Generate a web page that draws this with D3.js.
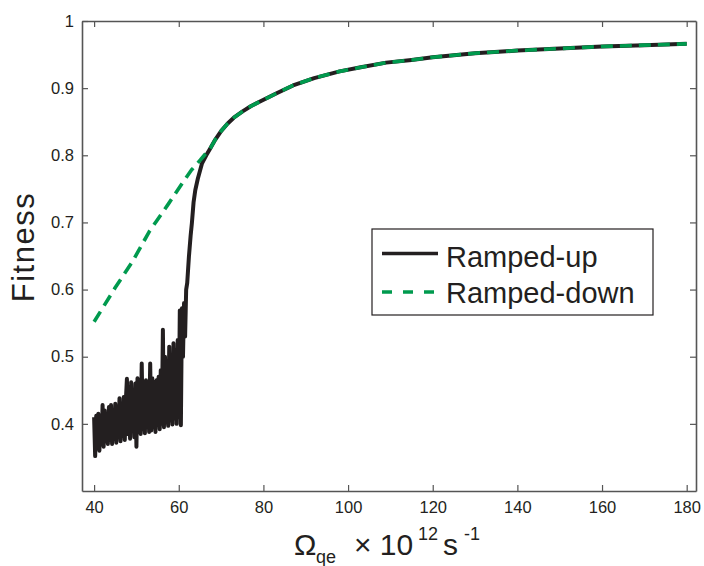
<!DOCTYPE html>
<html>
<head>
<meta charset="utf-8">
<script src="https://cdn.jsdelivr.net/npm/d3@7"></script>
<style>
  html, body { margin: 0; padding: 0; background: #fff; }
  svg { display: block; font-family: "Liberation Sans", Arial, Helvetica, sans-serif; }
</style>
</head>
<body>
<svg id="chart" width="704" height="566"></svg>
<script>
// ---------- data ----------
const xTicks = [40, 60, 80, 100, 120, 140, 160, 180];
const yTicks = [0.4, 0.5, 0.6, 0.7, 0.8, 0.9, 1];
const seriesNames = ["Ramped-up", "Ramped-down"];

const upX = [
  40.0, 40.25, 40.5, 40.75, 41.0, 41.25, 41.5, 41.75, 42.0, 42.25, 42.5, 42.75,
  43.0, 43.25, 43.5, 43.75, 44.0, 44.25, 44.5, 44.75, 45.0, 45.25, 45.5, 45.75,
  46.0, 46.25, 46.5, 46.75, 47.0, 47.25, 47.5, 47.75, 48.0, 48.25, 48.5, 48.75,
  49.0, 49.25, 49.5, 49.75, 50.0, 50.25, 50.5, 50.75, 51.0, 51.25, 51.5, 51.75,
  52.0, 52.25, 52.5, 52.75, 53.0, 53.25, 53.5, 53.75, 54.0, 54.25, 54.5, 54.75,
  55.0, 55.25, 55.5, 55.75, 56.0, 56.25, 56.5, 56.75, 57.0, 57.25, 57.5, 57.75,
  58.0, 58.25, 58.5, 58.75, 59.0, 59.25, 59.5, 59.75, 60.0, 60.25, 60.5, 60.75,
  61.0, 61.25, 61.5, 61.75, 62.0, 62.4, 62.8, 63.1, 63.5, 63.9, 64.5, 65.5,
  66.5, 67.5, 68.6, 70, 71.5, 73, 75, 77, 79.2, 83, 87, 92, 98, 103, 109, 115, 120,
  130, 140, 150, 160, 170, 180
];
const upY = [
  0.410, 0.352, 0.412, 0.368, 0.415, 0.360, 0.405, 0.372, 0.428, 0.366, 0.420, 0.375,
  0.410, 0.370, 0.425, 0.376, 0.428, 0.370, 0.415, 0.378, 0.430, 0.372, 0.420, 0.380,
  0.438, 0.374, 0.430, 0.382, 0.440, 0.376, 0.435, 0.467, 0.385, 0.455, 0.378, 0.462,
  0.390, 0.450, 0.380, 0.460, 0.366, 0.468, 0.390, 0.455, 0.385, 0.490, 0.392, 0.462,
  0.386, 0.465, 0.395, 0.458, 0.388, 0.490, 0.390, 0.468, 0.395, 0.462, 0.388, 0.465,
  0.398, 0.470, 0.392, 0.480, 0.400, 0.540, 0.395, 0.500, 0.402, 0.490, 0.397, 0.515,
  0.405, 0.500, 0.399, 0.520, 0.408, 0.510, 0.400, 0.525, 0.410, 0.569, 0.398, 0.572,
  0.500, 0.580, 0.530, 0.600, 0.610, 0.649, 0.680, 0.699, 0.730, 0.748, 0.765, 0.788,
  0.800, 0.811, 0.823, 0.836, 0.847, 0.856, 0.865, 0.873, 0.880, 0.892, 0.904, 0.915,
  0.925, 0.931, 0.938, 0.942, 0.946, 0.952, 0.956, 0.959, 0.962, 0.964, 0.966
];

const downX = [40, 45, 49, 53, 57.6, 61, 63, 65.1, 67.5, 68.6, 70, 71.5, 73, 75, 77,
  79.2, 83, 87, 92, 98, 103, 109, 115, 120, 130, 140, 150, 160, 170, 180];
const downY = [0.552, 0.603, 0.641, 0.686, 0.728, 0.760, 0.778, 0.793, 0.811, 0.823,
  0.836, 0.847, 0.856, 0.865, 0.873, 0.880, 0.892, 0.904, 0.915, 0.925, 0.931, 0.938,
  0.942, 0.946, 0.952, 0.956, 0.959, 0.962, 0.964, 0.966];

// ---------- layout ----------
const svg = d3.select("#chart");
const L = 82, R = 696, T = 21, B = 491;
const ink = "#231f20", green = "#009a4e", axisCol = "#555555";

const x = d3.scaleLinear().domain([37.14, 182.2]).range([L, R]);
const y = d3.scaleLinear().domain([0.3, 1]).range([B, T]);

// axes
function styleAxis(g) {
  g.selectAll("path.domain").attr("stroke", axisCol).attr("stroke-width", 1.6);
  g.selectAll(".tick line").attr("stroke", axisCol).attr("stroke-width", 1.2);
  g.selectAll(".tick text").attr("fill", ink).style("font-size", "16.5px")
    .style("font-family", "'Liberation Sans', Arial, sans-serif");
}
const fmtY = d => d === 1 ? "1" : d.toFixed(1);

svg.append("g").attr("transform", `translate(0,${B})`)
  .call(d3.axisBottom(x).tickValues(xTicks).tickSize(-6).tickSizeOuter(0).tickPadding(10))
  .call(styleAxis);
svg.append("g").attr("transform", `translate(0,${T})`)
  .call(d3.axisTop(x).tickValues(xTicks).tickSize(-6).tickSizeOuter(0).tickFormat(""))
  .call(styleAxis);
svg.append("g").attr("transform", `translate(${L},0)`)
  .call(d3.axisLeft(y).tickValues(yTicks).tickSize(-6).tickSizeOuter(0).tickPadding(8).tickFormat(fmtY))
  .call(styleAxis);
svg.append("g").attr("transform", `translate(${R},0)`)
  .call(d3.axisRight(y).tickValues(yTicks).tickSize(-6).tickSizeOuter(0).tickFormat(""))
  .call(styleAxis);

// lines
const line = d3.line().x(d => x(d[0])).y(d => y(d[1]));
const upData = upX.map((v, i) => [v, upY[i]]);
const downData = downX.map((v, i) => [v, downY[i]]);

svg.append("path").datum(upData).attr("d", line)
  .attr("fill", "none").attr("stroke", ink).attr("stroke-width", 4)
  .attr("stroke-linejoin", "round").attr("stroke-linecap", "butt");
svg.append("path").datum(downData).attr("d", line)
  .attr("fill", "none").attr("stroke", green).attr("stroke-width", 3.6)
  .attr("stroke-dasharray", "12,7").attr("stroke-linejoin", "round");

// legend
const lg = svg.append("g");
lg.append("rect").attr("x", 372).attr("y", 229).attr("width", 281).attr("height", 86)
  .attr("fill", "#fff").attr("stroke", ink).attr("stroke-width", 1.2);
lg.append("line").attr("x1", 382).attr("x2", 438).attr("y1", 253.5).attr("y2", 253.5)
  .attr("stroke", ink).attr("stroke-width", 3.6);
lg.append("line").attr("x1", 382).attr("x2", 438).attr("y1", 292).attr("y2", 292)
  .attr("stroke", green).attr("stroke-width", 3.6).attr("stroke-dasharray", "10,11");
lg.append("text").attr("x", 446).attr("y", 266.5).attr("fill", ink)
  .style("font-size", "29px").text(seriesNames[0]);
lg.append("text").attr("x", 446).attr("y", 303).attr("fill", ink)
  .style("font-size", "29px").text(seriesNames[1]);

// y label
svg.append("text").attr("transform", "translate(34,247) rotate(-90)")
  .attr("text-anchor", "middle").attr("fill", ink)
  .style("font-size", "31px").style("letter-spacing", "1.5px").text("Fitness");

// x label
const xl = svg.append("text").attr("fill", ink).attr("y", 555);
xl.append("tspan").attr("x", 294).style("font-size", "30px").text("Ω");
xl.append("tspan").attr("x", 316).attr("y", 563).style("font-size", "18px").text("qe");
xl.append("tspan").attr("x", 354).attr("y", 555).style("font-size", "30px").text("× 10");
xl.append("tspan").attr("x", 418).attr("y", 540).style("font-size", "18px").text("12");
xl.append("tspan").attr("x", 443).attr("y", 555).style("font-size", "30px").text("s");
xl.append("tspan").attr("x", 464).attr("y", 540).style("font-size", "18px").text("-1");
</script>
</body>
</html>
